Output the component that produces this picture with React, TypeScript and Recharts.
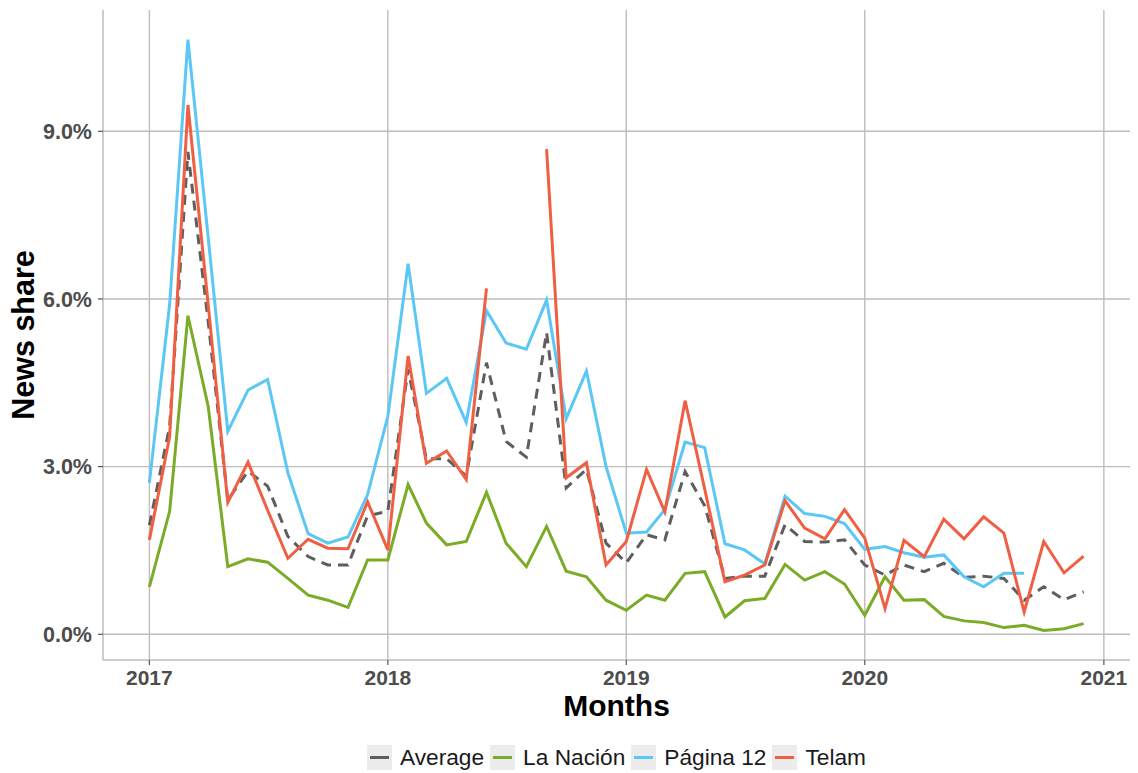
import React from "react";
import { LineChart, Line, XAxis, YAxis, CartesianGrid } from "recharts";

const months = [
  "2017-01", "2017-02", "2017-03", "2017-04", "2017-05", "2017-06", "2017-07", "2017-08", "2017-09", "2017-10", "2017-11", "2017-12",
  "2018-01", "2018-02", "2018-03", "2018-04", "2018-05", "2018-06", "2018-07", "2018-08", "2018-09", "2018-10", "2018-11", "2018-12",
  "2019-01", "2019-02", "2019-03", "2019-04", "2019-05", "2019-06", "2019-07", "2019-08", "2019-09", "2019-10", "2019-11", "2019-12",
  "2020-01", "2020-02", "2020-03", "2020-04", "2020-05", "2020-06", "2020-07", "2020-08", "2020-09", "2020-10", "2020-11", "2020-12",
];

const average = [
  1.95, 3.72, 8.63, 5.6, 2.4, 2.92, 2.65, 1.75, 1.39, 1.24, 1.24, 2.12,
  2.2, 4.74, 3.14, 3.14, 2.83, 4.86, 3.45, 3.17, 5.4, 2.62, 2.95, 1.63,
  1.28, 1.78, 1.69, 2.91, 2.3, 1.0, 1.04, 1.04, 1.96, 1.66, 1.65, 1.69,
  1.24, 1.06, 1.24, 1.12, 1.27, 1.02, 1.04, 1.0, 0.61, 0.85, 0.62, 0.76,
];

const laNacion = [
  0.85, 2.2, 5.7, 4.08, 1.21, 1.35, 1.29, 1.0, 0.7, 0.61, 0.48, 1.33,
  1.33, 2.68, 1.99, 1.6, 1.66, 2.54, 1.63, 1.21, 1.93, 1.13, 1.03, 0.61,
  0.43, 0.7, 0.61, 1.09, 1.12, 0.31, 0.6, 0.64, 1.25, 0.97, 1.12, 0.9,
  0.34, 1.03, 0.61, 0.62, 0.32, 0.24, 0.21, 0.12, 0.16, 0.07, 0.1, 0.19,
];

const pagina12 = [
  2.71, 5.9, 10.64, 7.1, 3.63, 4.37, 4.56, 2.89, 1.8, 1.63, 1.74, 2.5,
  3.9, 6.63, 4.31, 4.58, 3.79, 5.79, 5.21, 5.1, 5.98, 3.86, 4.71, 3.0,
  1.81, 1.83, 2.23, 3.44, 3.34, 1.62, 1.51, 1.26, 2.47, 2.16, 2.11, 1.98,
  1.52, 1.57, 1.46, 1.38, 1.42, 1.03, 0.85, 1.09, 1.09, null, null, null,
];

const telam = [
  1.69, 3.54, 9.47, 5.9, 2.36, 3.08, 2.22, 1.36, 1.7, 1.54, 1.53, 2.37,
  1.51, 4.98, 3.06, 3.28, 2.77, 6.19, null, null, 8.68, 2.8, 3.07, 1.24,
  1.66, 2.95, 2.19, 4.18, 2.6, 0.94, 1.06, 1.24, 2.39, 1.9, 1.71, 2.23,
  1.72, 0.46, 1.68, 1.39, 2.06, 1.71, 2.1, 1.81, 0.4, 1.66, 1.1, 1.4,
];

const yearLabels = ["2017", "2018", "2019", "2020", "2021"];
const yTicks = [0, 3, 6, 9];

const seriesInfo = [
  { key: "average", name: "Average", color: "#5e5e5e", dash: "10 7" },
  { key: "laNacion", name: "La Nación", color: "#7aac27", dash: undefined },
  { key: "pagina12", name: "Página 12", color: "#5bc7f5", dash: undefined },
  { key: "telam", name: "Telam", color: "#ef5f43", dash: undefined },
];

const toTime = (m: string) => Date.UTC(Number(m.slice(0, 4)), Number(m.slice(5, 7)) - 1, 1);

const data = months.map((m, i) => ({
  t: toTime(m),
  average: average[i],
  laNacion: laNacion[i],
  pagina12: pagina12[i],
  telam: telam[i],
}));

const xTicks = yearLabels.map((y) => Date.UTC(Number(y), 0, 1));
const xDomain = [Date.UTC(2016, 9, 22), Date.UTC(2021, 1, 10)];

const FONT = "'Liberation Sans', Arial, Helvetica, sans-serif";
const GRID = "#bdbdbd";

const scaleOf = (axis: any) => {
  if (!axis) return null;
  const s = axis.scale;
  if (typeof s === "function") return s;
  if (s && typeof s.map === "function") return (v: number) => s.map(v);
  return null;
};

export default function App() {
  return (
    <div style={{ position: "absolute", left: 0, top: 0, width: 1138, height: 773, background: "#fff", fontFamily: FONT }}>
      <LineChart width={1138} height={773} data={data} margin={{ top: 10, right: 8, bottom: 0, left: 0 }}>
        <CartesianGrid
          stroke={GRID}
          strokeWidth={1.4}
          horizontalCoordinatesGenerator={(props: any) => {
            const s = scaleOf(props.yAxis);
            return s ? yTicks.map((t) => s(t)) : [];
          }}
          verticalCoordinatesGenerator={(props: any) => {
            const s = scaleOf(props.xAxis);
            return s ? xTicks.map((t) => s(t)) : [];
          }}
        />
        <XAxis
          dataKey="t"
          type="number"
          scale="time"
          domain={xDomain}
          ticks={xTicks}
          allowDataOverflow
          height={113}
          tickFormatter={(v: number) => String(new Date(v).getUTCFullYear())}
          tick={{ fill: "#4d4d4d", fontSize: 21, fontWeight: "bold", fontFamily: FONT }}
          tickSize={5}
          tickMargin={5}
          axisLine={{ stroke: GRID, strokeWidth: 1.5 }}
          tickLine={{ stroke: "#555", strokeWidth: 1.2 }}
          label={{
            content: (p: any) => {
              const vb = p.viewBox || {};
              return (
                <text
                  x={vb.x + vb.width / 2}
                  y={vb.y + 56}
                  textAnchor="middle"
                  fontFamily={FONT}
                  fontWeight="bold"
                  fontSize={30}
                  fill="#000"
                >
                  Months
                </text>
              );
            },
          }}
        />
        <YAxis
          type="number"
          domain={[-0.46, 11.17]}
          ticks={yTicks}
          allowDataOverflow
          width={103}
          tickFormatter={(v: number) => v.toFixed(1) + "%"}
          tick={{ fill: "#4d4d4d", fontSize: 21.5, fontWeight: "bold", fontFamily: FONT }}
          tickSize={5}
          tickMargin={6}
          axisLine={{ stroke: GRID, strokeWidth: 1.5 }}
          tickLine={{ stroke: "#555", strokeWidth: 1.2 }}
          label={{
            content: (p: any) => {
              const vb = p.viewBox || {};
              const cy = vb.y + vb.height / 2;
              return (
                <text
                  x={34}
                  y={cy}
                  transform={`rotate(-90, 34, ${cy})`}
                  textAnchor="middle"
                  fontFamily={FONT}
                  fontWeight="bold"
                  fontSize={30.5}
                  fill="#000"
                >
                  News share
                </text>
              );
            },
          }}
        />
        {seriesInfo.map((s) => (
          <Line
            key={s.key}
            type="linear"
            dataKey={s.key}
            name={s.name}
            stroke={s.color}
            strokeWidth={3}
            strokeDasharray={s.dash}
            dot={false}
            activeDot={false}
            isAnimationActive={false}
            connectNulls={false}
          />
        ))}
      </LineChart>
      <div
        style={{
          position: "absolute",
          left: 103,
          width: 1027,
          top: 745,
          height: 25,
          display: "flex",
          justifyContent: "center",
          alignItems: "center",
          fontFamily: FONT,
          fontSize: 22.7,
          color: "#1a1a1a",
        }}
      >
        {seriesInfo.map((s, i) => (
          <div key={s.key} style={{ display: "flex", alignItems: "center", marginLeft: i === 0 ? 0 : 6 }}>
            <svg width={25} height={25} style={{ display: "block" }}>
              <rect x={0} y={0} width={25} height={25} fill="#ececec" />
              <line x1={3} x2={22} y1={12.5} y2={12.5} stroke={s.color} strokeWidth={3} />
            </svg>
            <span style={{ marginLeft: 8, lineHeight: "25px", whiteSpace: "nowrap" }}>{s.name}</span>
          </div>
        ))}
      </div>
    </div>
  );
}
